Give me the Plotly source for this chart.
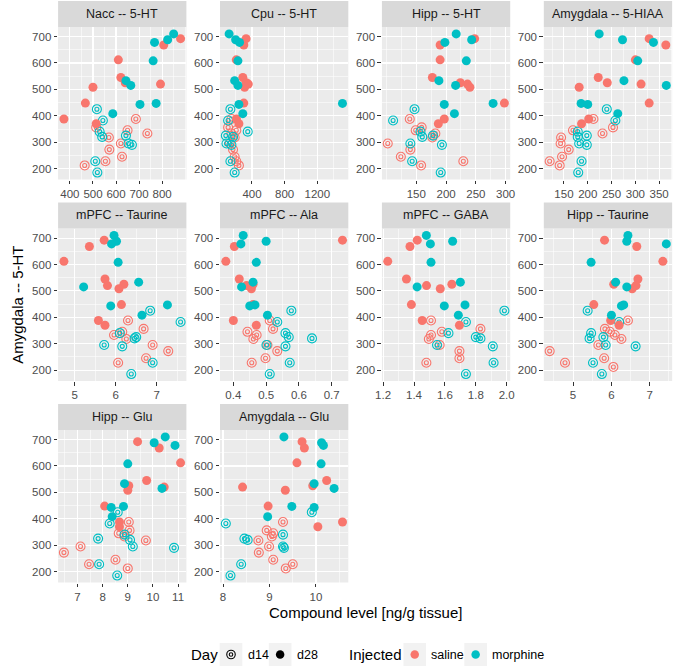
import plotly.graph_objects as go

# ---------------- data ----------------
PANEL_TITLES = ["Nacc -- 5-HT", "Cpu -- 5-HT", "Hipp -- 5-HT", "Amygdala -- 5-HIAA",
                "mPFC -- Taurine", "mPFC -- Ala", "mPFC -- GABA", "Hipp -- Taurine",
                "Hipp -- Glu", "Amygdala -- Glu"]

# Amygdala 5-HT (y) per animal, per group
y_saline_d14 = [388, 356, 345, 333, 318, 295, 272, 245, 228, 212]
y_saline_d28 = [692, 668, 612, 545, 525, 520, 508, 448, 388, 370]
y_morphine_d14 = [425, 382, 340, 325, 320, 295, 290, 228, 185]
y_morphine_d28 = [710, 688, 678, 608, 533, 515, 447, 443, 408]

# compound levels (x), same animal order as the y lists
nacc_5ht_sal14 = [686, 514, 650, 736, 569, 621, 571, 626, 554, 464]
nacc_5ht_sal28 = [880, 807, 610, 621, 640, 793, 500, 467, 374, 514]
nacc_5ht_mor14 = [517, 543, 529, 643, 540, 654, 669, 510, 519]
nacc_5ht_mor28 = [850, 824, 767, 761, 643, 664, 774, 704, 586]

cpu_5ht_sal14 = [148, 108, 208, 148, 188, 128, 168, 188, 208, 240]
cpu_5ht_sal28 = [328, 300, 208, 288, 330, 355, 310, 300, 210, 240]
cpu_5ht_mor14 = [136, 108, 348, 80, 168, 88, 148, 136, 188]
cpu_5ht_mor28 = [120, 200, 248, 228, 188, 228, 1508, 240, 288]

hipp_5ht_sal14 = [139, 159, 149, 182, 177, 102, 140, 124, 229, 158]
hipp_5ht_sal28 = [248, 190, 190, 177, 224, 236, 240, 298, 197, 187]
hipp_5ht_mor14 = [147, 111, 157, 178, 160, 140, 193, 143, 191]
hipp_5ht_mor28 = [217, 243, 198, 234, 188, 216, 279, 197, 214]

amy_5hiaa_sal14 = [212, 253, 169, 231, 144, 143, 160, 146, 120, 141]
amy_5hiaa_sal28 = [329, 364, 300, 222, 241, 312, 182, 329, 202, 187]
amy_5hiaa_mor14 = [240, 258, 179, 198, 179, 182, 198, 187, 180]
amy_5hiaa_mor28 = [224, 273, 338, 305, 276, 365, 186, 200, 263]

mpfc_tau_sal14 = [6.3, 6.68, 6.16, 5.96, 6.26, 6.9, 7.28, 6.74, 6.06, None]
mpfc_tau_sal28 = [5.72, 5.36, 4.74, 5.74, 6.2, 5.8, 6.08, 6.14, 5.58, 5.74]
mpfc_tau_mor14 = [6.84, 7.58, 6.1, 6.5, 6.46, 5.72, 6.16, 6.9, 6.38]
mpfc_tau_mor28 = [5.96, 6.02, 5.9, 6.06, 6.56, 5.22, 7.26, 5.88, 6.64]

mpfc_ala_sal14 = [0.511, 0.521, 0.443, 0.471, 0.461, 0.504, 0.534, 0.498, 0.456, None]
mpfc_ala_sal28 = [0.733, 0.403, 0.377, 0.418, 0.46, 0.44, 0.455, 0.46, 0.4, 0.47]
mpfc_ala_mor14 = [0.577, 0.534, 0.559, 0.569, 0.64, 0.501, 0.559, 0.572, 0.511]
mpfc_ala_mor28 = [0.43, 0.5, 0.423, 0.47, 0.46, 0.425, 0.466, 0.45, 0.504]

mpfc_gaba_sal14 = [1.51, 1.83, 1.58, 1.51, 1.496, 1.566, 1.694, 1.694, 1.48, None]
mpfc_gaba_sal28 = [1.421, 1.374, 1.23, 1.351, 1.645, 1.481, 1.57, 1.383, 1.453, 1.694]
mpfc_gaba_mor14 = [1.985, 1.736, 1.623, 1.8, 1.83, 1.549, 1.91, 1.915, 1.736]
mpfc_gaba_mor28 = [1.48, 1.65, 1.506, 1.51, 1.70, 1.42, 1.73, 1.596, 1.687]

hipp_tau_sal14 = [6.43, 5.83, 5.96, 6.09, 6.26, 5.66, 4.39, 5.81, 4.79, 6.05]
hipp_tau_sal28 = [5.82, 6.66, 7.34, 6.69, 6.06, 6.64, 6.54, 5.54, 5.98, 6.2]
hipp_tau_mor14 = [5.38, 6.2, 5.47, 5.79, 5.43, 5.85, 6.63, 5.52, 5.75]
hipp_tau_mor28 = [6.43, 6.4, 7.43, 5.47, 6.11, 6.4, 6.32, 6.26, 6.0]

hipp_glu_sal14 = [9.04, 9.07, 8.64, 8.87, 9.72, 7.12, 6.46, 8.51, 7.46, 9.0]
hipp_glu_sal28 = [9.39, 10.25, 11.1, 9.75, 9.04, 10.45, 9.0, 8.08, 8.67, 8.67]
hipp_glu_mor14 = [8.6, 8.28, 8.87, 7.82, 9.09, 9.2, 10.84, 7.86, 8.58]
hipp_glu_mor28 = [10.49, 10.05, 10.88, 9.0, 8.87, 10.36, 8.83, 8.34, 8.38]

amy_glu_sal14 = [9.29, 8.94, 9.08, 9.05, 8.76, 8.99, 8.77, 9.08, 9.5, 9.35]
amy_glu_sal28 = [9.70, 9.75, 9.59, 10.23, 9.93, 8.42, 9.34, 8.97, 10.57, 10.04]
amy_glu_mor14 = [9.91, 8.06, 9.29, 8.46, 8.53, 9.29, 9.31, 8.39, 8.16]
amy_glu_mor28 = [9.31, 10.12, 10.16, 10.11, 9.96, 10.39, 9.48, 9.96, 8.96]

# tick labels
Y_TICKS = [200, 300, 400, 500, 600, 700]
nacc_ticks = [400, 500, 600, 700, 800]
cpu_ticks = [400, 800, 1200]
hipp_5ht_ticks = [150, 200, 250, 300]
amy_5hiaa_ticks = [150, 200, 250, 300, 350]
mpfc_tau_ticks = [5, 6, 7]
mpfc_ala_ticks = ["0.4", "0.5", "0.6", "0.7"]
mpfc_gaba_ticks = ["1.2", "1.4", "1.6", "1.8", "2.0"]
hipp_tau_ticks = [5, 6, 7]
hipp_glu_ticks = [7, 8, 9, 10, 11]
amy_glu_ticks = [8, 9, 10]

DAY_LABELS = ["d14", "d28"]
INJECTED_LABELS = ["saline", "morphine"]

PANEL_X = [
    [nacc_5ht_sal14, nacc_5ht_sal28, nacc_5ht_mor14, nacc_5ht_mor28],
    [cpu_5ht_sal14, cpu_5ht_sal28, cpu_5ht_mor14, cpu_5ht_mor28],
    [hipp_5ht_sal14, hipp_5ht_sal28, hipp_5ht_mor14, hipp_5ht_mor28],
    [amy_5hiaa_sal14, amy_5hiaa_sal28, amy_5hiaa_mor14, amy_5hiaa_mor28],
    [mpfc_tau_sal14, mpfc_tau_sal28, mpfc_tau_mor14, mpfc_tau_mor28],
    [mpfc_ala_sal14, mpfc_ala_sal28, mpfc_ala_mor14, mpfc_ala_mor28],
    [mpfc_gaba_sal14, mpfc_gaba_sal28, mpfc_gaba_mor14, mpfc_gaba_mor28],
    [hipp_tau_sal14, hipp_tau_sal28, hipp_tau_mor14, hipp_tau_mor28],
    [hipp_glu_sal14, hipp_glu_sal28, hipp_glu_mor14, hipp_glu_mor28],
    [amy_glu_sal14, amy_glu_sal28, amy_glu_mor14, amy_glu_mor28],
]
PANEL_TICKS = [nacc_ticks, cpu_ticks, hipp_5ht_ticks, amy_5hiaa_ticks, mpfc_tau_ticks,
               mpfc_ala_ticks, mpfc_gaba_ticks, hipp_tau_ticks, hipp_glu_ticks, amy_glu_ticks]

# ---------------- style / layout ----------------
SALINE = "#F8766D"
MORPHINE = "#00BFC4"
FONT = "Liberation Sans"
W, H = 685, 667
COL_X0 = [52.0, 216.8, 381.6, 546.4]
PANEL_W = 130.6
ROW_TOP = [27.0, 228.5, 430.0]
PANEL_H = 152.5
STRIP_H = 26.0

fig = go.Figure()
layout = {}
shapes = []
annotations = []

all_y = y_saline_d14 + y_saline_d28 + y_morphine_d14 + y_morphine_d28
ylo, yhi = min(all_y), max(all_y)
ypad = 0.05 * (yhi - ylo)
YRANGE = [ylo - ypad, yhi + ypad]

common = dict(
    showgrid=True, gridcolor="white", gridwidth=1.1, zeroline=False, showline=False,
    ticks="outside", ticklen=3.5, tickwidth=1, tickcolor="#333333",
    tickfont=dict(family=FONT, size=11.5, color="#4D4D4D"), fixedrange=True,
)

for i, title in enumerate(PANEL_TITLES):
    r, c = divmod(i, 4)
    n = i + 1
    xa = "x" if n == 1 else f"x{n}"
    ya = "y" if n == 1 else f"y{n}"
    xkey = "xaxis" if n == 1 else f"xaxis{n}"
    ykey = "yaxis" if n == 1 else f"yaxis{n}"
    x0 = COL_X0[c]
    x1 = x0 + PANEL_W
    top = ROW_TOP[r]
    bot = top + PANEL_H

    xs = PANEL_X[i]
    vals = [v for lst in xs for v in lst if v is not None]
    lo, hi = min(vals), max(vals)
    p = 0.05 * (hi - lo)
    ticks = PANEL_TICKS[i]
    tv = [float(t) for t in ticks]
    tt = [str(t) for t in ticks]
    mdt = (tv[1] - tv[0]) / 2.0

    layout[xkey] = dict(
        domain=[x0 / W, x1 / W], anchor=ya, range=[lo - p, hi + p],
        tickmode="array", tickvals=tv, ticktext=tt,
        minor=dict(tickmode="linear", tick0=0, dtick=mdt, showgrid=True,
                   gridcolor="white", gridwidth=0.55, ticks=""),
        **common)
    layout[ykey] = dict(
        domain=[1 - bot / H, 1 - top / H], anchor=xa, range=YRANGE,
        tickmode="array", tickvals=Y_TICKS, ticktext=[str(t) for t in Y_TICKS],
        minor=dict(tickmode="linear", tick0=0, dtick=50, showgrid=True,
                   gridcolor="white", gridwidth=0.55, ticks=""),
        **common)

    # strip
    shapes.append(dict(type="rect", xref="paper", yref="paper",
                       x0=x0 / W, x1=x1 / W, y0=1 - top / H, y1=1 - (top - STRIP_H) / H,
                       fillcolor="#D9D9D9", line=dict(width=0), layer="below"))
    annotations.append(dict(text=title, xref="paper", yref="paper",
                            x=(x0 + x1) / 2 / W, y=1 - (top - STRIP_H / 2) / H,
                            xanchor="center", yanchor="middle", showarrow=False,
                            font=dict(family=FONT, size=12.5, color="#1A1A1A")))

    groups = [
        (xs[0], y_saline_d14, SALINE, "open"),
        (xs[2], y_morphine_d14, MORPHINE, "open"),
        (xs[1], y_saline_d28, SALINE, "filled"),
        (xs[3], y_morphine_d28, MORPHINE, "filled"),
    ]
    for gx, gy, col, kind in groups:
        if kind == "open":
            fig.add_trace(go.Scatter(x=gx, y=gy, xaxis=xa, yaxis=ya, mode="markers",
                                     marker=dict(symbol="circle-open", size=9, color=col,
                                                 line=dict(width=1.1, color=col)),
                                     showlegend=False, hoverinfo="skip"))
            fig.add_trace(go.Scatter(x=gx, y=gy, xaxis=xa, yaxis=ya, mode="markers",
                                     marker=dict(symbol="circle-open", size=4, color=col,
                                                 line=dict(width=1.1, color=col)),
                                     showlegend=False, hoverinfo="skip"))
        else:
            fig.add_trace(go.Scatter(x=gx, y=gy, xaxis=xa, yaxis=ya, mode="markers",
                                     marker=dict(symbol="circle", size=9, color=col,
                                                 line=dict(width=0)),
                                     showlegend=False, hoverinfo="skip"))

# axis titles
annotations.append(dict(text="Compound level [ng/g tissue]", xref="paper", yref="paper",
                        x=364.5 / W, y=1 - 612 / H, xanchor="center", yanchor="middle",
                        showarrow=False, font=dict(family=FONT, size=15, color="black")))
annotations.append(dict(text="Amygdala -- 5-HT", xref="paper", yref="paper",
                        x=10 / W, y=1 - 305 / H, xanchor="center", yanchor="middle",
                        textangle=-90, showarrow=False,
                        font=dict(family=FONT, size=15, color="black")))

# legend (drawn manually, ggplot style)
LEG_Y = 654.5


def leg_text(txt, xleft, size):
    annotations.append(dict(text=txt, xref="paper", yref="paper", x=xleft / W,
                            y=1 - LEG_Y / H, xanchor="left", yanchor="middle",
                            showarrow=False, font=dict(family=FONT, size=size, color="black")))


def leg_box(cx):
    shapes.append(dict(type="rect", xref="paper", yref="paper",
                       x0=(cx - 11.5) / W, x1=(cx + 11.5) / W,
                       y0=1 - (LEG_Y + 11.5) / H, y1=1 - (LEG_Y - 11.5) / H,
                       fillcolor="#F2F2F2", line=dict(width=0)))


def leg_circle(cx, d, color, filled):
    shapes.append(dict(type="circle", xref="paper", yref="paper",
                       xsizemode="pixel", ysizemode="pixel",
                       xanchor=cx / W, yanchor=1 - LEG_Y / H,
                       x0=-d / 2, x1=d / 2, y0=-d / 2, y1=d / 2,
                       fillcolor=color if filled else "rgba(0,0,0,0)",
                       line=dict(width=0 if filled else 1.1, color=color)))


leg_text("Day", 185, 15)
leg_box(228)
leg_circle(228, 8.5, "black", False)
leg_circle(228, 3.5, "black", False)
leg_text(DAY_LABELS[0], 243, 12.5)
leg_box(278)
leg_circle(278, 8.5, "black", True)
leg_text(DAY_LABELS[1], 293, 12.5)
leg_text("Injected", 346, 15)
leg_box(415)
leg_circle(415, 8.5, SALINE, True)
leg_text(INJECTED_LABELS[0], 430, 12.5)
leg_box(477)
leg_circle(477, 8.5, MORPHINE, True)
leg_text(INJECTED_LABELS[1], 492, 12.5)

fig.update_layout(
    width=W, height=H, autosize=False,
    margin=dict(l=0, r=0, t=0, b=0, pad=0),
    paper_bgcolor="white", plot_bgcolor="#EBEBEB",
    font=dict(family=FONT),
    shapes=shapes, annotations=annotations, showlegend=False,
    **layout,
)

fig.write_html("out.html", config={"displayModeBar": False, "staticPlot": True},
               post_script="document.body.style.margin='0';document.body.style.overflow='hidden';")
